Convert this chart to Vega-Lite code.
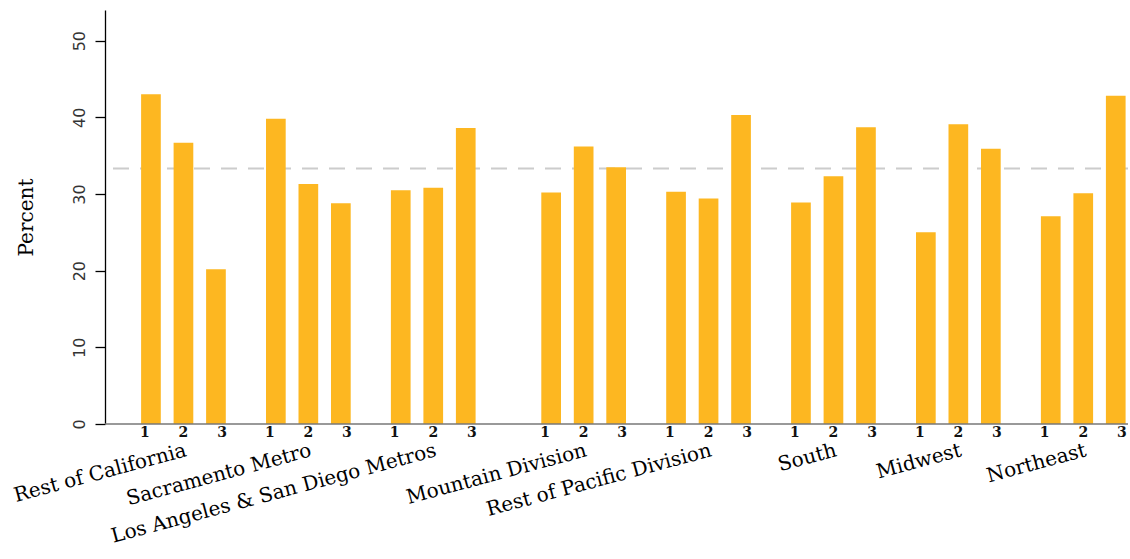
{
  "$schema": "https://vega.github.io/schema/vega-lite/v6.json",
  "width": 1023,
  "height": 414,
  "autosize": {"type": "none"},
  "padding": {"left": 105, "top": 10, "right": 2, "bottom": 135},
  "background": "white",
  "config": {
    "view": {"stroke": null},
    "axisX": {
      "domain": false, "ticks": false, "tickSize": 0, "grid": false, "labelAngle": -15,
      "labelAlign": "right", "labelBaseline": "top", "labelPadding": 16,
      "labelFont": "DejaVu Serif", "labelFontSize": 20, "labelColor": "#000",
      "labelLimit": 0, "labelOverlap": false
    },
    "axisY": {
      "domainColor": "#000", "domainWidth": 1.3, "tickColor": "#000", "tickWidth": 1.3, "tickSize": 10,
      "labelFont": "DejaVu Sans", "labelFontSize": 16, "labelColor": "#333", "labelAngle": 270,
      "labelAlign": "center", "labelBaseline": "alphabetic", "labelPadding": 11,
      "titleFont": "DejaVu Serif", "titleFontSize": 20, "titleFontWeight": "normal", "titleColor": "#000",
      "titlePadding": 35, "grid": false
    }
  },
  "datasets": {
    "ca": [
      {"region": "Rest of California", "period": "1", "pct": 43.0},
      {"region": "Rest of California", "period": "2", "pct": 36.7},
      {"region": "Rest of California", "period": "3", "pct": 20.2},
      {"region": "Sacramento Metro", "period": "1", "pct": 39.8},
      {"region": "Sacramento Metro", "period": "2", "pct": 31.3},
      {"region": "Sacramento Metro", "period": "3", "pct": 28.8},
      {"region": "Los Angeles & San Diego Metros", "period": "1", "pct": 30.5},
      {"region": "Los Angeles & San Diego Metros", "period": "2", "pct": 30.8},
      {"region": "Los Angeles & San Diego Metros", "period": "3", "pct": 38.6}
    ],
    "us": [
      {"region": "Mountain Division", "period": "1", "pct": 30.2},
      {"region": "Mountain Division", "period": "2", "pct": 36.2},
      {"region": "Mountain Division", "period": "3", "pct": 33.5},
      {"region": "Rest of Pacific Division", "period": "1", "pct": 30.3},
      {"region": "Rest of Pacific Division", "period": "2", "pct": 29.4},
      {"region": "Rest of Pacific Division", "period": "3", "pct": 40.3},
      {"region": "South", "period": "1", "pct": 28.9},
      {"region": "South", "period": "2", "pct": 32.3},
      {"region": "South", "period": "3", "pct": 38.7},
      {"region": "Midwest", "period": "1", "pct": 25.0},
      {"region": "Midwest", "period": "2", "pct": 39.1},
      {"region": "Midwest", "period": "3", "pct": 35.9},
      {"region": "Northeast", "period": "1", "pct": 27.1},
      {"region": "Northeast", "period": "2", "pct": 30.1},
      {"region": "Northeast", "period": "3", "pct": 42.8}
    ]
  },
  "layer": [
    {
      "data": {"values": [{}]},
      "mark": {"type": "rule", "color": "#cccccc", "strokeWidth": 2, "strokeDash": [16, 11]},
      "encoding": {
        "y": {"datum": 33.33, "type": "quantitative", "scale": {"domain": [0, 54], "nice": false},
              "axis": {"title": "Percent", "orient": "left", "values": [0, 10, 20, 30, 40, 50]}}
      }
    },
    {
      "data": {"name": "ca"},
      "mark": {"type": "bar", "color": "#FDB721"},
      "encoding": {
        "x": {
          "field": "region", "type": "nominal",
          "sort": ["Rest of California", "Sacramento Metro", "Los Angeles & San Diego Metros"],
          "scale": {"type": "band", "range": [16, 390.7], "paddingInner": 0, "paddingOuter": 0},
          "axis": {"orient": "bottom", "title": null}
        },
        "xOffset": {"field": "period", "type": "nominal", "scale": {"paddingInner": 0.394, "paddingOuter": 0.6185}},
        "y": {"field": "pct", "type": "quantitative", "scale": {"domain": [0, 54], "nice": false},
              "axis": {"title": "Percent", "orient": "left", "values": [0, 10, 20, 30, 40, 50]}}
      }
    },
    {
      "data": {"name": "ca"},
      "mark": {"type": "text", "font": "DejaVu Serif", "fontSize": 14, "fontWeight": "bold", "baseline": "middle", "dy": 9, "color": "#111"},
      "encoding": {
        "x": {
          "field": "region", "type": "nominal",
          "sort": ["Rest of California", "Sacramento Metro", "Los Angeles & San Diego Metros"],
          "scale": {"type": "band", "range": [16, 390.7], "paddingInner": 0, "paddingOuter": 0},
          "axis": null
        },
        "xOffset": {"field": "period", "type": "nominal", "scale": {"paddingInner": 0.394, "paddingOuter": 0.6185}},
        "y": {"datum": 0, "type": "quantitative", "scale": {"domain": [0, 54], "nice": false},
              "axis": {"title": "Percent", "orient": "left", "values": [0, 10, 20, 30, 40, 50]}},
        "text": {"field": "period"}
      }
    },
    {
      "data": {"name": "us"},
      "mark": {"type": "bar", "color": "#FDB721"},
      "encoding": {
        "x": {
          "field": "region", "type": "nominal",
          "sort": ["Mountain Division", "Rest of Pacific Division", "South", "Midwest", "Northeast"],
          "scale": {"type": "band", "range": [416.2, 1040.7], "paddingInner": 0, "paddingOuter": 0},
          "axis": {"orient": "bottom", "title": null}
        },
        "xOffset": {"field": "period", "type": "nominal", "scale": {"paddingInner": 0.394, "paddingOuter": 0.6185}},
        "y": {"field": "pct", "type": "quantitative", "scale": {"domain": [0, 54], "nice": false},
              "axis": {"title": "Percent", "orient": "left", "values": [0, 10, 20, 30, 40, 50]}}
      }
    },
    {
      "data": {"name": "us"},
      "mark": {"type": "text", "font": "DejaVu Serif", "fontSize": 14, "fontWeight": "bold", "baseline": "middle", "dy": 9, "color": "#111"},
      "encoding": {
        "x": {
          "field": "region", "type": "nominal",
          "sort": ["Mountain Division", "Rest of Pacific Division", "South", "Midwest", "Northeast"],
          "scale": {"type": "band", "range": [416.2, 1040.7], "paddingInner": 0, "paddingOuter": 0},
          "axis": null
        },
        "xOffset": {"field": "period", "type": "nominal", "scale": {"paddingInner": 0.394, "paddingOuter": 0.6185}},
        "y": {"datum": 0, "type": "quantitative", "scale": {"domain": [0, 54], "nice": false},
              "axis": {"title": "Percent", "orient": "left", "values": [0, 10, 20, 30, 40, 50]}},
        "text": {"field": "period"}
      }
    },
    {
      "data": {"values": [{}]},
      "mark": {"type": "rule", "color": "#777", "strokeWidth": 1.5},
      "encoding": {
        "y": {"datum": 0, "type": "quantitative", "scale": {"domain": [0, 54], "nice": false},
              "axis": {"title": "Percent", "orient": "left", "values": [0, 10, 20, 30, 40, 50]}}
      }
    }
  ],
  "resolve": {"scale": {"x": "independent", "xOffset": "independent"}, "axis": {"x": "independent"}}
}
